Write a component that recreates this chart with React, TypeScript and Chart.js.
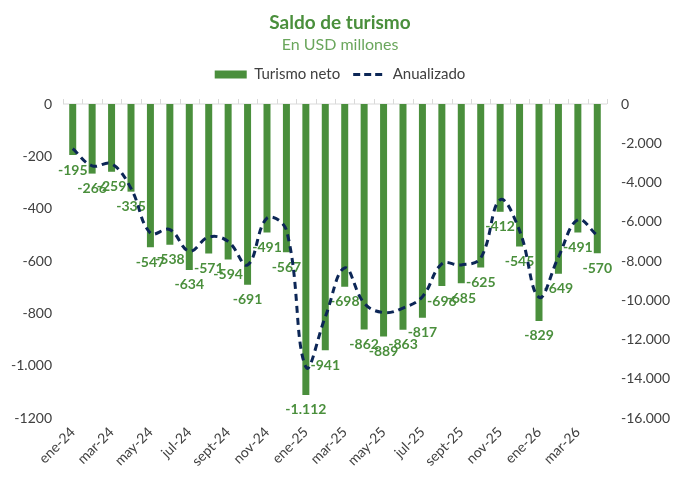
import React, { useEffect, useRef } from "react";
import { Chart, registerables } from "chart.js";

Chart.register(...registerables);

const months = [
  "ene-24", "feb-24", "mar-24", "abr-24", "may-24", "jun-24", "jul-24", "ago-24", "sept-24", "oct-24", "nov-24", "dic-24",
  "ene-25", "feb-25", "mar-25", "abr-25", "may-25", "jun-25", "jul-25", "ago-25", "sept-25", "oct-25", "nov-25", "dic-25",
  "ene-26", "feb-26", "mar-26", "abr-26",
];

const turismoNeto = [
  -195, -266, -259, -335, -547, -538, -634, -571, -594, -691, -491, -567,
  -1112, -941, -698, -862, -889, -863, -817, -696, -685, -625, -412, -545,
  -829, -649, -491, -570,
];

const anualizado = [
  -2280, -3150, -3050, -4300, -6580, -6400, -7500, -6780, -7000, -8200, -5820, -6430,
  -13400, -10850, -8350, -10150, -10630, -10400, -9820, -8150, -8200, -7850, -4880, -6450,
  -9850, -7800, -5900, -6700,
];

const leftTicks = ["0", "-200", "-400", "-600", "-800", "-1.000", "-1200"];

const GREEN = "#4a8f3c";
const NAVY = "#0c2656";
const FONT = "Lato, 'Open Sans', sans-serif";

function fmt(v: number) {
  const s = Math.abs(v).toString().replace(/\B(?=(\d{3})+(?!\d))/g, ".");
  return (v < 0 ? "-" : "") + s;
}

const barLabels = {
  id: "barLabels",
  afterDatasetDraw(chart: any, args: any) {
    if (args.index !== 0) return;
    const ctx = chart.ctx;
    ctx.save();
    ctx.font = `bold 14px ${FONT}`;
    ctx.fillStyle = GREEN;
    ctx.textAlign = "center";
    ctx.textBaseline = "middle";
    args.meta.data.forEach((el: any, i: number) => {
      ctx.fillText(fmt(turismoNeto[i]), el.x, el.y + 15);
    });
    ctx.restore();
  },
};

const zeroAxis = {
  id: "zeroAxis",
  beforeDatasetsDraw(chart: any) {
    const { ctx, chartArea, scales } = chart;
    const y = scales.y.getPixelForValue(0);
    const step = (chartArea.right - chartArea.left) / months.length;
    ctx.save();
    ctx.strokeStyle = "#d9d9d9";
    ctx.lineWidth = 1;
    ctx.beginPath();
    ctx.moveTo(chartArea.left, y);
    ctx.lineTo(chartArea.right, y);
    for (let i = 0; i <= months.length; i++) {
      const x = Math.round(chartArea.left + i * step) + 0.5;
      ctx.moveTo(x, y);
      ctx.lineTo(x, y - 5);
    }
    ctx.stroke();
    ctx.restore();
  },
};

// extra room between the legend and the plot
const legendGap = {
  id: "legendGap",
  afterInit(chart: any) {
    const fit = chart.legend.fit;
    chart.legend.fit = function () {
      fit.call(this);
      this.height += 12;
    };
  },
};

export default function App() {
  const canvasRef = useRef<HTMLCanvasElement>(null);

  useEffect(() => {
    const chart = new Chart(canvasRef.current!, {
      type: "bar",
      data: {
        labels: months,
        datasets: [
          {
            type: "bar",
            label: "Turismo neto",
            data: turismoNeto,
            backgroundColor: GREEN,
            borderWidth: 0,
            barPercentage: 0.36,
            categoryPercentage: 1,
            yAxisID: "y",
            order: 1,
          },
          {
            type: "line",
            label: "Anualizado",
            data: anualizado,
            borderColor: NAVY,
            backgroundColor: NAVY,
            borderWidth: 3,
            borderDash: [7, 5],
            tension: 0.4,
            pointRadius: 0,
            fill: false,
            yAxisID: "y2",
            order: 0,
          },
        ] as any,
      },
      options: {
        animation: false,
        responsive: false,
        layout: { padding: 0 },
        plugins: {
          title: {
            display: true,
            text: "Saldo de turismo",
            color: GREEN,
            font: { family: FONT, size: 19, weight: "bold" },
            padding: { top: 11, bottom: 1 },
          },
          subtitle: {
            display: true,
            text: "En USD millones",
            color: "#6aa65c",
            font: { family: FONT, size: 16 },
            padding: { top: 0, bottom: 0 },
          },
          legend: {
            position: "top",
            labels: {
              usePointStyle: true,
              pointStyleWidth: 32,
              boxHeight: 8,
              color: "#404040",
              padding: 13,
              font: { family: FONT, size: 15 },
              generateLabels: (c: any) =>
                c.data.datasets.map((ds: any, i: number) => ({
                  text: ds.label,
                  datasetIndex: i,
                  fillStyle: i === 0 ? GREEN : "transparent",
                  strokeStyle: i === 0 ? GREEN : NAVY,
                  lineWidth: i === 0 ? 0 : 3,
                  lineDash: i === 0 ? [] : [7, 4],
                  pointStyle: i === 0 ? "rect" : "line",
                  fontColor: "#404040",
                  hidden: false,
                })),
            },
          },
          tooltip: { enabled: false },
        },
        scales: {
          x: {
            grid: { display: false, drawTicks: false },
            border: { display: false },
            ticks: {
              autoSkip: false,
              maxRotation: 45,
              minRotation: 45,
              padding: 6,
              color: "#404040",
              font: { family: FONT, size: 14 },
              callback: (_v: any, i: number) => (i % 2 === 0 ? months[i] : ""),
            },
            afterFit: (s: any) => {
              s.height = 67;
            },
          },
          y: {
            position: "left",
            min: -1200,
            max: 0,
            grid: { display: false, drawTicks: false },
            border: { display: false },
            ticks: {
              stepSize: 200,
              color: "#404040",
              padding: 11,
              font: { family: FONT, size: 14 },
              callback: (v: any) => leftTicks[Math.round(-v / 200)],
            },
            afterFit: (s: any) => {
              s.width = 63;
            },
          },
          y2: {
            position: "right",
            min: -16000,
            max: 0,
            grid: { display: false, drawTicks: false },
            border: { display: false },
            ticks: {
              stepSize: 2000,
              color: "#404040",
              padding: 14,
              font: { family: FONT, size: 14 },
              callback: (v: any) => fmt(Number(v)),
            },
            afterFit: (s: any) => {
              s.width = 73;
            },
          },
        },
      },
      plugins: [barLabels, zeroAxis, legendGap],
    });
    return () => chart.destroy();
  }, []);

  return (
    <div style={{ position: "absolute", left: 0, top: 0, width: 680, height: 485, background: "#fff" }}>
      <canvas ref={canvasRef} width={680} height={485} />
    </div>
  );
}
